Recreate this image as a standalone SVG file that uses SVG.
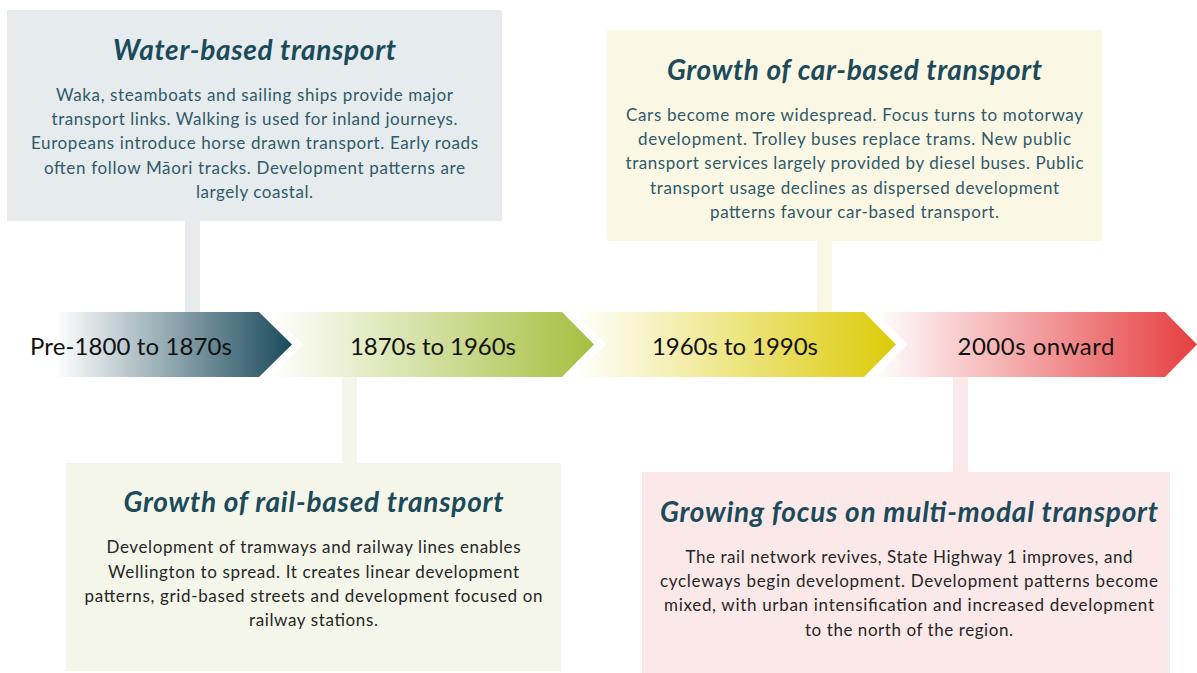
<svg xmlns="http://www.w3.org/2000/svg" width="1197" height="673" viewBox="0 0 1197 673">
  <style>
    .title { font-family: Lato, "Liberation Sans", sans-serif; font-weight: bold; font-style: italic; font-size: 28px; fill: #1b4a5a; text-anchor: middle; }
    .body { font-family: Lato, "Liberation Sans", sans-serif; font-size: 17px; text-anchor: middle; }
    .teal { fill: #2f5a6a; }
    .dark { fill: #262626; }
    .label { font-family: Lato, "Liberation Sans", sans-serif; font-size: 24px; fill: #111111; text-anchor: middle; }
  </style>
  <defs>
    <linearGradient id="g1" x1="0" y1="0" x2="1" y2="0">
      <stop offset="0" stop-color="#ffffff"/>
      <stop offset="1" stop-color="#1b4a5c"/>
    </linearGradient>
    <linearGradient id="g2" x1="0" y1="0" x2="1" y2="0">
      <stop offset="0" stop-color="#ffffff"/>
      <stop offset="1" stop-color="#a6bf40"/>
    </linearGradient>
    <linearGradient id="g3" x1="0" y1="0" x2="1" y2="0">
      <stop offset="0" stop-color="#ffffff"/>
      <stop offset="1" stop-color="#dccb08"/>
    </linearGradient>
    <linearGradient id="g4" x1="0" y1="0" x2="1" y2="0">
      <stop offset="0" stop-color="#ffffff"/>
      <stop offset="1" stop-color="#e63e40"/>
    </linearGradient>
  </defs>
  <rect width="1197" height="673" fill="#ffffff"/>

  <g id="connectors">
    <rect x="185" y="221" width="15" height="91" fill="#e6ebed"/>
    <rect x="817" y="241" width="15" height="71" fill="#faf7e4"/>
    <rect x="342" y="377" width="15" height="86" fill="#f4f6ea"/>
    <rect x="953" y="377" width="15" height="95" fill="#fbe8e8"/>
  </g>

  <g id="arrow-1">
    <polygon points="56,312 259,312 292,344.5 259,377 56,377" fill="url(#g1)"/>
    <text class="label" x="131" y="354.5" textLength="202">Pre-1800 to 1870s</text>
  </g>
  <g id="arrow-2">
    <polygon points="270,312 562,312 594,344.5 562,377 270,377 303,344.5" fill="url(#g2)"/>
    <text class="label" x="433" y="354.5" textLength="166">1870s to 1960s</text>
  </g>
  <g id="arrow-3">
    <polygon points="573,312 864,312 896,344.5 864,377 573,377 606,344.5" fill="url(#g3)"/>
    <text class="label" x="735" y="354.5" textLength="166">1960s to 1990s</text>
  </g>
  <g id="arrow-4">
    <polygon points="875,312 1165,312 1197,344.5 1165,377 875,377 908,344.5" fill="url(#g4)"/>
    <text class="label" x="1036" y="354.5" textLength="157">2000s onward</text>
  </g>

  <g id="water-based">
    <rect x="7" y="10" width="495" height="211" fill="#e6ebed"/>
    <text class="title" x="254.5" y="60" textLength="283">Water-based transport</text>
    <text class="body teal" x="254.5" y="100.7" textLength="397">Waka, steamboats and sailing ships provide major</text>
    <text class="body teal" x="254.5" y="125" textLength="406">transport links. Walking is used for inland journeys.</text>
    <text class="body teal" x="254.5" y="149.3" textLength="447">Europeans introduce horse drawn transport. Early roads</text>
    <text class="body teal" x="254.5" y="173.7" textLength="421">often follow Māori tracks. Development patterns are</text>
    <text class="body teal" x="254.5" y="198" textLength="117">largely coastal.</text>
  </g>

  <g id="car-based">
    <rect x="607" y="30" width="495" height="211" fill="#faf7e4"/>
    <text class="title" x="854.5" y="80" textLength="375">Growth of car-based transport</text>
    <text class="body teal" x="854.5" y="120.7" textLength="457">Cars become more widespread. Focus turns to motorway</text>
    <text class="body teal" x="854.5" y="145" textLength="433">development. Trolley buses replace trams. New public</text>
    <text class="body teal" x="854.5" y="169.3" textLength="458">transport services largely provided by diesel buses. Public</text>
    <text class="body teal" x="854.5" y="193.7" textLength="409">transport usage declines as dispersed development</text>
    <text class="body teal" x="854.5" y="218" textLength="289">patterns favour car-based transport.</text>
  </g>

  <g id="rail-based">
    <rect x="66" y="463" width="495" height="208" fill="#f4f6ea"/>
    <text class="title" x="313.5" y="511.7" textLength="380">Growth of rail-based transport</text>
    <text class="body dark" x="313.5" y="553.3" textLength="414">Development of tramways and railway lines enables</text>
    <text class="body dark" x="313.5" y="577.7" textLength="411">Wellington to spread. It creates linear development</text>
    <text class="body dark" x="313.5" y="602" textLength="458">patterns, grid-based streets and development focused on</text>
    <text class="body dark" x="313.5" y="626.3" textLength="129">railway stations.</text>
  </g>

  <g id="multi-modal">
    <rect x="642" y="472" width="528" height="201" fill="#fbe9e9"/>
    <text class="title" x="909" y="522" textLength="498">Growing focus on multi-modal transport</text>
    <text class="body dark" x="909" y="562.5" textLength="447">The rail network revives, State Highway 1 improves, and</text>
    <text class="body dark" x="909" y="587" textLength="498">cycleways begin development. Development patterns become</text>
    <text class="body dark" x="909" y="611" textLength="490">mixed, with urban intensification and increased development</text>
    <text class="body dark" x="909" y="635.5" textLength="208">to the north of the region.</text>
  </g>
</svg>
